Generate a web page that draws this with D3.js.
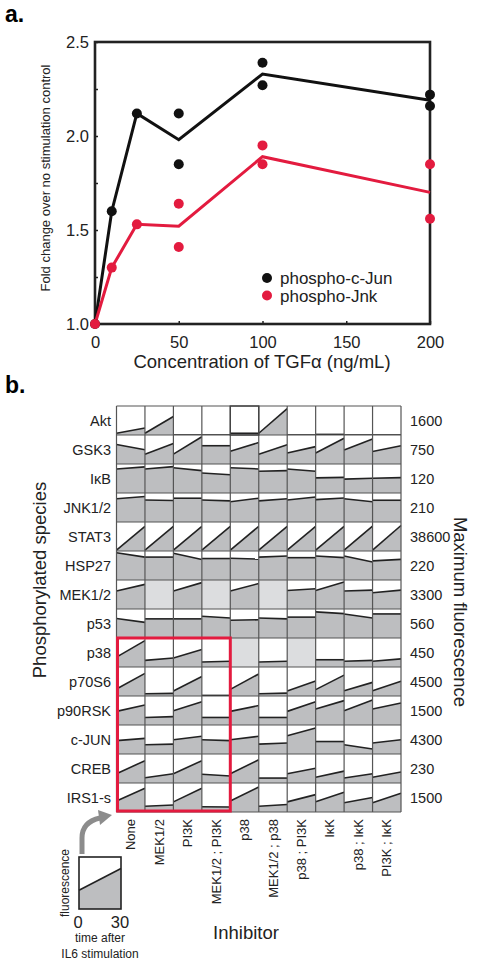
<!DOCTYPE html>
<html><head><meta charset="utf-8">
<script src="https://cdn.jsdelivr.net/npm/d3@7"></script>
<style>
html,body{margin:0;padding:0;background:#fff;}
svg{display:block;font-family:"Liberation Sans",Arial,sans-serif;}
</style></head>
<body>
<svg id="chart" width="478" height="962"></svg>
<script>
// ---------- Panel a data ----------
const concentrations = [0, 10, 25, 50, 100, 200];
const cJunMean = [1.0, 1.60, 2.12, 1.98, 2.33, 2.19];
const jnkMean  = [1.0, 1.30, 1.53, 1.52, 1.89, 1.70];
const cJunPointConc = [0, 10, 25, 50, 50, 100, 100, 200, 200];
const cJunPointVal  = [1.0, 1.60, 2.12, 2.12, 1.85, 2.39, 2.27, 2.22, 2.16];
const jnkPointConc  = [0, 10, 25, 50, 50, 100, 100, 200, 200];
const jnkPointVal   = [1.0, 1.30, 1.53, 1.64, 1.41, 1.95, 1.85, 1.85, 1.56];
const xTickLabels = [0, 50, 100, 150, 200];
const yTickLabels = [1.0, 1.5, 2.0, 2.5];
const legendLabels = ["phospho-c-Jun", "phospho-Jnk"];

// ---------- Panel b data ----------
const species = ["Akt","GSK3","I\u03BAB","JNK1/2","STAT3","HSP27","MEK1/2","p53","p38","p70S6","p90RSK","c-JUN","CREB","IRS1-s"];
const inhibitors = ["None","MEK1/2","PI3K","MEK1/2 ; PI3K","p38","MEK1/2 ; p38","p38 ; PI3K","I\u03BAK","p38 ; I\u03BAK","PI3K ; I\u03BAK"];
const maxFluorescence = ["1600","750","120","210","38600","220","3300","560","450","4500","1500","4300","230","1500"];
// fraction of max fluorescence at t=0 (start) and t=30 (end); null = not measured
const startVals = [
  [0.06,0.06,0,0,0.06,0.06,0,0.02,0,0],
  [0.67,0.34,0.34,0.63,0.44,0.34,0.38,0.38,0.48,0.43],
  [0.83,0.83,0.87,0.69,0.87,0.75,0.83,0.52,0.48,0.51],
  [0.80,0.76,0.82,0.76,0.70,0.73,0.76,0.77,0.80,0.75],
  [0.03,0.03,0.03,0.03,0.03,0.03,0.03,0.03,0.03,0.03],
  [0.94,0.79,0.92,0.74,0.75,0.79,0.77,0.83,0.83,0.66],
  [0.62,null,0.62,null,0.62,null,0.64,0.64,0.62,0.56],
  [0.67,0.66,0.66,0.75,0.61,0.69,0.72,0.90,0.83,0.83],
  [0.34,0.23,0.31,0.17,null,0.17,null,0.25,0.20,0.20],
  [0.24,0.08,0.17,0.02,0.23,0.08,0.17,0.22,0.18,0.18],
  [0.47,0.26,0.49,0.26,0.47,0.26,0.47,0.55,0.49,0.55],
  [0.46,0.32,0.49,0.49,0.49,0.34,0.63,0.43,0.32,0.38],
  [0.32,0.18,0.32,0.30,0.32,0.17,0.32,0.20,0.17,0.20],
  [0.38,0.20,0.35,0.18,0.38,0.20,0.35,0.35,0.32,0.32]
];
const endVals = [
  [0.24,0.64,0,0,0.06,0.91,0,0.02,0,0],
  [0.49,0.71,0.94,0.63,0.74,0.66,0.60,0.89,0.86,0.63],
  [0.90,0.91,0.77,0.63,0.83,0.77,0.75,0.54,0.51,0.53],
  [0.88,0.74,0.82,0.73,0.82,0.80,0.86,0.83,0.70,0.75],
  [0.85,0.85,0.85,0.85,0.85,0.85,0.85,0.85,0.86,0.88],
  [0.79,0.79,0.71,0.74,0.72,0.83,0.77,0.77,0.62,0.71],
  [0.85,null,0.91,null,0.88,null,0.70,0.93,0.65,0.65],
  [0.54,0.66,0.66,0.69,0.63,0.66,0.72,0.84,0.69,0.83],
  [0.91,0.31,0.60,0.20,null,0.20,null,0.25,0.23,0.28],
  [0.78,0.09,0.67,0.02,0.76,0.10,0.52,0.72,0.47,0.51],
  [0.69,0.29,0.80,0.26,0.67,0.26,0.80,0.84,0.86,0.76],
  [0.54,0.34,0.61,0.46,0.61,0.38,0.90,0.43,0.17,0.49],
  [0.77,0.32,0.77,0.24,0.80,0.17,0.51,0.41,0.32,0.38],
  [0.82,0.24,0.82,0.17,0.86,0.26,0.60,0.68,0.50,0.65]
];
const highlightInhibitors = ["None","MEK1/2 ; PI3K"];
const highlightSpecies = ["p38","IRS1-s"];
const insetStart = [0.36], insetEnd = [0.78], insetTicks = ["0","30"];

const RED = "#e31b3f", GRAY = "#bdbec0", NA = "#dcdddf";
const svg = d3.select("#chart");

// ================= Panel a =================
svg.append("text").attr("x",5).attr("y",22).attr("font-size",23).attr("font-weight","bold").text("a.");

const x = d3.scaleLinear().domain([0,200]).range([95,430]);
const y = d3.scaleLinear().domain([1.0,2.5]).range([324,42]);

const ga = svg.append("g");
const xAxis = d3.axisBottom(x).tickValues(xTickLabels).tickSize(-3).tickFormat(d=>d).tickPadding(8);
const gx = ga.append("g").attr("transform","translate(0,324)").call(xAxis);
gx.select(".domain").remove();
gx.selectAll("line").attr("stroke","#222").attr("stroke-width",1.5);
gx.selectAll("text").attr("font-size",16.5).attr("fill","#222").attr("dy","0.95em");

const yAxis = d3.axisLeft(y).tickValues(d3.range(1.0,2.51,0.25)).tickSize(-3)
  .tickFormat(d=> yTickLabels.some(v=>Math.abs(v-d)<1e-6) ? d3.format(".1f")(d) : "").tickPadding(6);
const gy = ga.append("g").attr("transform","translate(95,0)").call(yAxis);
gy.select(".domain").remove();
gy.selectAll("line").attr("stroke","#222").attr("stroke-width",1.5);
gy.selectAll("text").attr("font-size",16.5).attr("fill","#222");

ga.append("rect").attr("x",95).attr("y",42).attr("width",335).attr("height",282)
  .attr("fill","none").attr("stroke","#222").attr("stroke-width",2.6);

const line = d3.line().x((d,i)=>x(concentrations[i])).y(d=>y(d));
ga.append("path").datum(cJunMean).attr("d",line).attr("fill","none").attr("stroke","#111").attr("stroke-width",3);
ga.append("path").datum(jnkMean).attr("d",line).attr("fill","none").attr("stroke",RED).attr("stroke-width",3);

ga.selectAll(".cj").data(cJunPointVal).enter().append("circle")
  .attr("cx",(d,i)=>x(cJunPointConc[i])).attr("cy",d=>y(d)).attr("r",5).attr("fill","#111");
ga.selectAll(".jn").data(jnkPointVal).enter().append("circle")
  .attr("cx",(d,i)=>x(jnkPointConc[i])).attr("cy",d=>y(d)).attr("r",5).attr("fill",RED);

ga.append("text").attr("transform","translate(50,178) rotate(-90)").attr("text-anchor","middle")
  .attr("font-size",13).attr("fill","#222").text("Fold change over no stimulation control");
ga.append("text").attr("x",262).attr("y",368).attr("text-anchor","middle").attr("font-size",18.5)
  .attr("fill","#222").text("Concentration of TGF\u03B1 (ng/mL)");

const legColors = ["#111", RED];
legendLabels.forEach((lab,i)=>{
  ga.append("circle").attr("cx",267).attr("cy",278+i*17.5).attr("r",5).attr("fill",legColors[i]);
  ga.append("text").attr("x",280).attr("y",284+i*17.5).attr("font-size",17).attr("fill","#222").text(lab);
});

// ================= Panel b =================
svg.append("text").attr("x",5).attr("y",393).attr("font-size",23).attr("font-weight","bold").text("b.");

const gx0 = 116.5, gx1 = 401, gy0 = 406, gy1 = 812;
const cx = d3.scaleBand().domain(inhibitors).range([gx0,gx1]).padding(0);
const ry = d3.scaleBand().domain(species).range([gy0,gy1]).padding(0);
const cw = cx.bandwidth(), rh = ry.bandwidth();
const vy = d3.scaleLinear().domain([0,1]).range([rh,0]);

const gb = svg.append("g");
species.forEach((sp,r)=>{
  inhibitors.forEach((inh,c)=>{
    const g = gb.append("g").attr("transform",`translate(${cx(inh)},${ry(sp)})`);
    const s = startVals[r][c], e = endVals[r][c];
    if (s === null || e === null) {
      g.append("rect").attr("width",cw).attr("height",rh).attr("fill",NA);
    } else {
      g.append("rect").attr("width",cw).attr("height",rh).attr("fill","#fff");
      const area = d3.area().x((d,i)=> i*cw).y0(rh).y1(d=>vy(d));
      g.append("path").datum([s,e]).attr("d",area).attr("fill",GRAY);
      g.append("line").attr("x1",0).attr("x2",cw).attr("y1",vy(s)).attr("y2",vy(e))
        .attr("stroke","#222").attr("stroke-width",1.6);
    }
  });
});
inhibitors.concat(["__end"]).forEach((inh,i)=>{
  const xx = i < inhibitors.length ? cx(inh) : gx1;
  gb.append("line").attr("x1",xx).attr("x2",xx).attr("y1",gy0).attr("y2",gy1).attr("stroke","#555").attr("stroke-width",1.2);
});
species.concat(["__end"]).forEach((sp,i)=>{
  const yy = i < species.length ? ry(sp) : gy1;
  gb.append("line").attr("x1",gx0).attr("x2",gx1).attr("y1",yy).attr("y2",yy).attr("stroke","#555").attr("stroke-width",1.2);
});
// slightly darker frame on Akt / p38 cell
gb.append("rect").attr("x",cx("p38")).attr("y",ry("Akt")).attr("width",cw).attr("height",rh)
  .attr("fill","none").attr("stroke","#444").attr("stroke-width",1.4);

const hx0 = cx(highlightInhibitors[0]), hx1 = cx(highlightInhibitors[1]) + cw;
const hy0 = ry(highlightSpecies[0]), hy1 = ry(highlightSpecies[1]) + rh;
gb.append("rect").attr("x",hx0+1).attr("y",hy0).attr("width",hx1-hx0-1).attr("height",hy1-hy0-1)
  .attr("fill","none").attr("stroke",RED).attr("stroke-width",3);

species.forEach((sp,r)=>{
  gb.append("text").attr("x",111).attr("y",ry(sp)+rh/2).attr("dy","0.36em").attr("text-anchor","end")
    .attr("font-size",14.5).attr("fill","#222").text(sp);
  gb.append("text").attr("x",410).attr("y",ry(sp)+rh/2).attr("dy","0.36em")
    .attr("font-size",14.5).attr("fill","#222").text(maxFluorescence[r]);
});
inhibitors.forEach(inh=>{
  gb.append("text").attr("transform",`translate(${cx(inh)+cw/2},${gy1+7}) rotate(-90)`)
    .attr("text-anchor","end").attr("dy","0.35em").attr("font-size",13).attr("fill","#222").text(inh);
});
gb.append("text").attr("transform","translate(40,580) rotate(-90)").attr("text-anchor","middle")
  .attr("dy","0.35em").attr("font-size",18.5).attr("fill","#222").text("Phosphorylated species");
gb.append("text").attr("transform","translate(460,612) rotate(90)").attr("text-anchor","middle")
  .attr("dy","0.35em").attr("font-size",18.5).attr("fill","#222").text("Maximum fluorescence");
gb.append("text").attr("x",246).attr("y",939).attr("text-anchor","middle").attr("font-size",18.5)
  .attr("fill","#222").text("Inhibitor");

// inset legend
const ix = d3.scaleLinear().domain([0,30]).range([79,121]);
const iy = d3.scaleLinear().domain([0,1]).range([909,857]);
const ins = svg.append("g");
ins.append("rect").attr("x",ix(0)).attr("y",iy(1)).attr("width",ix(30)-ix(0)).attr("height",iy(0)-iy(1)).attr("fill","#fff");
ins.append("path").datum([insetStart[0],insetEnd[0]])
  .attr("d",d3.area().x((d,i)=>ix(i*30)).y0(iy(0)).y1(d=>iy(d))).attr("fill",GRAY);
ins.append("line").attr("x1",ix(0)).attr("x2",ix(30)).attr("y1",iy(insetStart[0])).attr("y2",iy(insetEnd[0]))
  .attr("stroke","#222").attr("stroke-width",1.6);
ins.append("rect").attr("x",ix(0)).attr("y",iy(1)).attr("width",ix(30)-ix(0)).attr("height",iy(0)-iy(1))
  .attr("fill","none").attr("stroke","#222").attr("stroke-width",1.6);
insetTicks.forEach((t,i)=>{
  ins.append("text").attr("x",ix(i*30)-1).attr("y",928).attr("text-anchor","middle")
    .attr("font-size",16.5).attr("fill","#222").text(t);
});
ins.append("text").attr("transform","translate(65,883) rotate(-90)").attr("text-anchor","middle")
  .attr("dy","0.35em").attr("font-size",12).attr("fill","#222").text("fluorescence");
ins.append("text").attr("x",100).attr("y",942).attr("text-anchor","middle").attr("font-size",12).attr("fill","#222").text("time after");
ins.append("text").attr("x",100).attr("y",958).attr("text-anchor","middle").attr("font-size",12).attr("fill","#222").text("IL6 stimulation");
ins.append("path").attr("d","M82,854 L82,838 Q82,822 100,818").attr("fill","none")
  .attr("stroke","#8c8c8c").attr("stroke-width",5);
ins.append("path").attr("d","M112,815 L98,810 L100,825 Z").attr("fill","#8c8c8c");
</script>
</body></html>
